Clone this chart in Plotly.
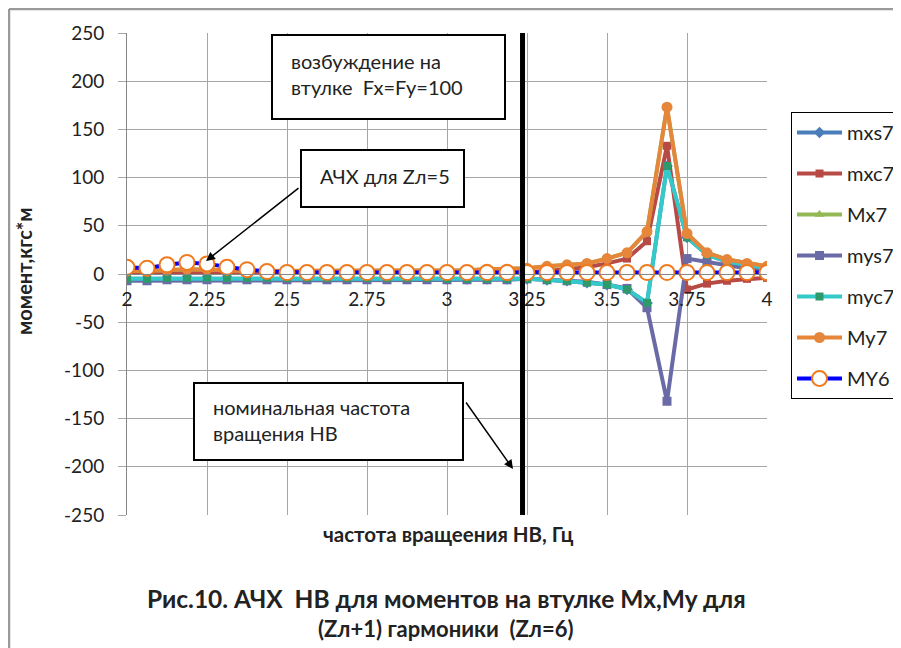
import plotly.graph_objects as go

# ---------------- data ----------------
freq = [2.0, 2.0625, 2.125, 2.1875, 2.25, 2.3125, 2.375, 2.4375, 2.5, 2.5625, 2.625,
        2.6875, 2.75, 2.8125, 2.875, 2.9375, 3.0, 3.0625, 3.125, 3.1875, 3.25, 3.3125,
        3.375, 3.4375, 3.5, 3.5625, 3.625, 3.6875, 3.75, 3.8125, 3.875, 3.9375, 4.0]

mxs7 = [-5, -5, -4, -4, -4, -4, -4, -4, -4, -4, -4, -4, -4, -4, -4, -4, -5, -5, -5, -5,
        -5, -6, -7, -9, -11, -16, -30, 112, 38, 20, 13, 9, 6]
mxc7 = [1, 1, 2, 2, 2, 1, 1, 1, 1, 1, 1, 1, 1, 1, 1, 1, 1, 1, 2, 2,
        2, 3, 5, 7, 11, 16, 34, 133, -16, -10, -7, -5, -4]
Mx7 = [3, 3, 4, 5, 5, 4, 3, 3, 3, 3, 3, 3, 3, 3, 3, 3, 4, 4, 5, 5,
       6, 8, 9.5, 11, 16, 22, 44, 173, 42, 22, 15, 11, 8]
mys7 = [-7, -7, -6, -6, -6, -6, -6, -6, -6, -6, -6, -6, -6, -6, -6, -6, -6, -6, -6, -6,
        -5, -6, -7, -8, -11, -15, -35, -132, 16, 12, 9, 6, 4]
myc7 = [-5, -5, -4, -4, -4, -4, -4, -4, -4, -4, -4, -4, -4, -4, -4, -4, -5, -5, -5, -5,
        -5, -6, -7, -9, -11, -16, -30, 112, 38, 20, 13, 9, 6]
My7 = [3, 3, 4, 5, 5, 4, 3, 3, 3, 3, 3, 3, 3, 3, 3, 3, 4, 4, 5, 5,
       6, 8, 9.5, 11, 16, 22, 44, 173, 42, 22, 15, 11, 8]
MY6 = [7, 6, 9.5, 12, 10.5, 7, 4.5, 2.5, 1.5, 1.5, 1.5, 1.5, 1.5, 1.5, 1.5, 1.5, 1.5, 1.5,
       1.5, 1.5, 1.5, 1.5, 1.5, 1.5, 1.5, 1.5, 1.5, 1.5, 1.5, 1.5, 1.5, 1.5, 1.5]

x_tick_vals = [2, 2.25, 2.5, 2.75, 3, 3.25, 3.5, 3.75, 4]
x_tick_text = ["2", "2.25", "2.5", "2.75", "3", "3.25", "3.5", "3.75", "4"]
y_tick_vals = [250, 200, 150, 100, 50, 0, -50, -100, -150, -200, -250]
y_tick_text = ["250", "200", "150", "100", "50", "0", "-50", "-100", "-150", "-200", "-250"]
nominal_freq = 3.236

# ---------------- geometry helpers (page pixel -> paper / data) ----------------
OFF = 8                      # default body margin of the html page
W, H = 915, 648 - OFF
L, R, T, B = 127 - OFF, 156, 33 - OFF, 133
PW, PH = W - L - R, H - T - B
FONT = "Lato, 'Open Sans', sans-serif"
NB = "\u00a0"


def px_x(px):
    return (px - OFF - L) / PW


def px_y(py):
    return (T + PH - (py - OFF)) / PH


def dx(px):
    return 2 + (px - OFF - L) * 2.0 / PW


def dy(py):
    return 250 - (py - OFF - T) * 500.0 / PH


series = [
    ("mxs7", mxs7, "#4A7EBB", "diamond", "#4A7EBB", 9),
    ("mxc7", mxc7, "#B84A46", "square", "#B84A46", 8),
    ("Mx7", Mx7, "#93B955", "triangle-up", "#93B955", 9),
    ("mys7", mys7, "#6A6AA6", "square", "#6A6AA6", 9),
    ("myc7", myc7, "#35CACA", "square", "#2E9A6C", 8),
    ("My7", My7, "#E5863A", "circle", "#E5863A", 11),
]

fig = go.Figure()
for name, ys, lc, sym, mc, ms in series:
    fig.add_trace(go.Scatter(
        x=freq, y=ys, mode="lines+markers", name=name, legendgroup=name,
        line=dict(color=lc, width=4),
        marker=dict(symbol=sym, size=ms, color=mc, line=dict(width=0)),
    ))
fig.add_trace(go.Scatter(
    x=freq, y=MY6, mode="lines+markers", name="MY6", legendgroup="MY6",
    line=dict(color="#0000FF", width=4),
    marker=dict(symbol="circle", size=15, color="white",
                line=dict(color="#F07A1E", width=2)),
))

shapes = [
    dict(type="line", xref="x", yref="y", x0=nominal_freq, x1=nominal_freq,
         y0=-250, y1=250, line=dict(color="black", width=5), layer="above"),
    dict(type="rect", xref="paper", yref="paper", x0=px_x(272), x1=px_x(505),
         y0=px_y(119), y1=px_y(35), line=dict(color="black", width=2),
         fillcolor="white", layer="above"),
    dict(type="rect", xref="paper", yref="paper", x0=px_x(301), x1=px_x(464),
         y0=px_y(207), y1=px_y(150), line=dict(color="black", width=2),
         fillcolor="white", layer="above"),
    dict(type="rect", xref="paper", yref="paper", x0=px_x(194), x1=px_x(463),
         y0=px_y(460), y1=px_y(383), line=dict(color="black", width=2),
         fillcolor="white", layer="above"),
    dict(type="line", xref="paper", yref="paper", x0=px_x(9), x1=px_x(9),
         y0=px_y(9), y1=px_y(660), line=dict(color="#9A9A9A", width=2.5)),
    dict(type="line", xref="paper", yref="paper", x0=px_x(9), x1=px_x(930),
         y0=px_y(9), y1=px_y(9), line=dict(color="#9A9A9A", width=2.5)),
]

txt_font = dict(family=FONT, size=20, color="#222222")
annotations = [
    dict(xref="paper", yref="paper", x=px_x(289), y=px_y(74), xanchor="left",
         yanchor="middle", align="left", showarrow=False, font=txt_font,
         text="возбуждение на<br>втулке" + NB + NB + "Fx=Fy=100"),
    dict(xref="paper", yref="paper", x=px_x(318), y=px_y(176), xanchor="left",
         yanchor="middle", align="left", showarrow=False, font=txt_font,
         text="АЧХ для Zл=5"),
    dict(xref="paper", yref="paper", x=px_x(211), y=px_y(420), xanchor="left",
         yanchor="middle", align="left", showarrow=False, font=txt_font,
         text="номинальная частота<br>вращения НВ"),
    dict(xref="x", yref="y", axref="x", ayref="y", x=dx(206), y=dy(261),
         ax=dx(300), ay=dy(187), text="", showarrow=True, arrowhead=2,
         arrowsize=1.2, arrowwidth=1.5, arrowcolor="black", standoff=0),
    dict(xref="x", yref="y", axref="x", ayref="y", x=dx(513), y=dy(469),
         ax=dx(465), ay=dy(401), text="", showarrow=True, arrowhead=2,
         arrowsize=1.2, arrowwidth=1.5, arrowcolor="black", standoff=0),
    dict(xref="paper", yref="paper", x=px_x(448), y=px_y(534), xanchor="center",
         yanchor="middle", showarrow=False,
         font=dict(family=FONT, size=20.5, color="#222222"),
         text="<b>частота вращеения НВ, Гц</b>"),
    dict(xref="paper", yref="paper", x=px_x(24), y=px_y(271), xanchor="center",
         yanchor="middle", showarrow=False, textangle=-90,
         font=dict(family=FONT, size=20, color="#222222"),
         text="<b>момент,кгс*м</b>"),
    dict(xref="paper", yref="paper", x=px_x(446), y=px_y(598), xanchor="center",
         yanchor="middle", showarrow=False,
         font=dict(family=FONT, size=24.5, color="#222222"),
         text="<b>Рис.10. АЧХ" + NB + NB + "НВ для моментов на втулке Mx,My для</b>"),
    dict(xref="paper", yref="paper", x=px_x(446), y=px_y(628), xanchor="center",
         yanchor="middle", showarrow=False,
         font=dict(family=FONT, size=22, color="#222222"),
         text="<b>(Zл+1) гармоники" + NB + NB + "(Zл=6)</b>"),
]

fig.update_layout(
    width=W, height=H,
    margin=dict(l=L, r=R, t=T, b=B),
    paper_bgcolor="white", plot_bgcolor="white",
    font=dict(family=FONT, size=19, color="#222222"),
    shapes=shapes, annotations=annotations,
    legend=dict(
        x=px_x(791), y=px_y(112), xanchor="left", yanchor="top",
        bgcolor="white", bordercolor="black", borderwidth=1,
        font=dict(family=FONT, size=20, color="#222222"),
        tracegroupgap=12, itemwidth=45,
    ),
    xaxis=dict(
        range=[2, 4], tickvals=x_tick_vals, ticktext=x_tick_text,
        showgrid=True, gridcolor="#A6A6A6", gridwidth=1,
        anchor="free", position=0.5, showline=True, linecolor="#868686",
        ticks="", zeroline=False, ticklabelstandoff=8,
        tickfont=dict(family=FONT, size=19, color="#222222"),
    ),
    yaxis=dict(
        range=[-250, 250], tickvals=y_tick_vals, ticktext=y_tick_text,
        showgrid=True, gridcolor="#A6A6A6", gridwidth=1,
        showline=True, linecolor="#868686",
        ticks="outside", ticklen=8, tickcolor="#A6A6A6",
        zeroline=False, ticklabelstandoff=10,
        tickfont=dict(family=FONT, size=19, color="#222222"),
    ),
)

fig.write_html("out.html")
